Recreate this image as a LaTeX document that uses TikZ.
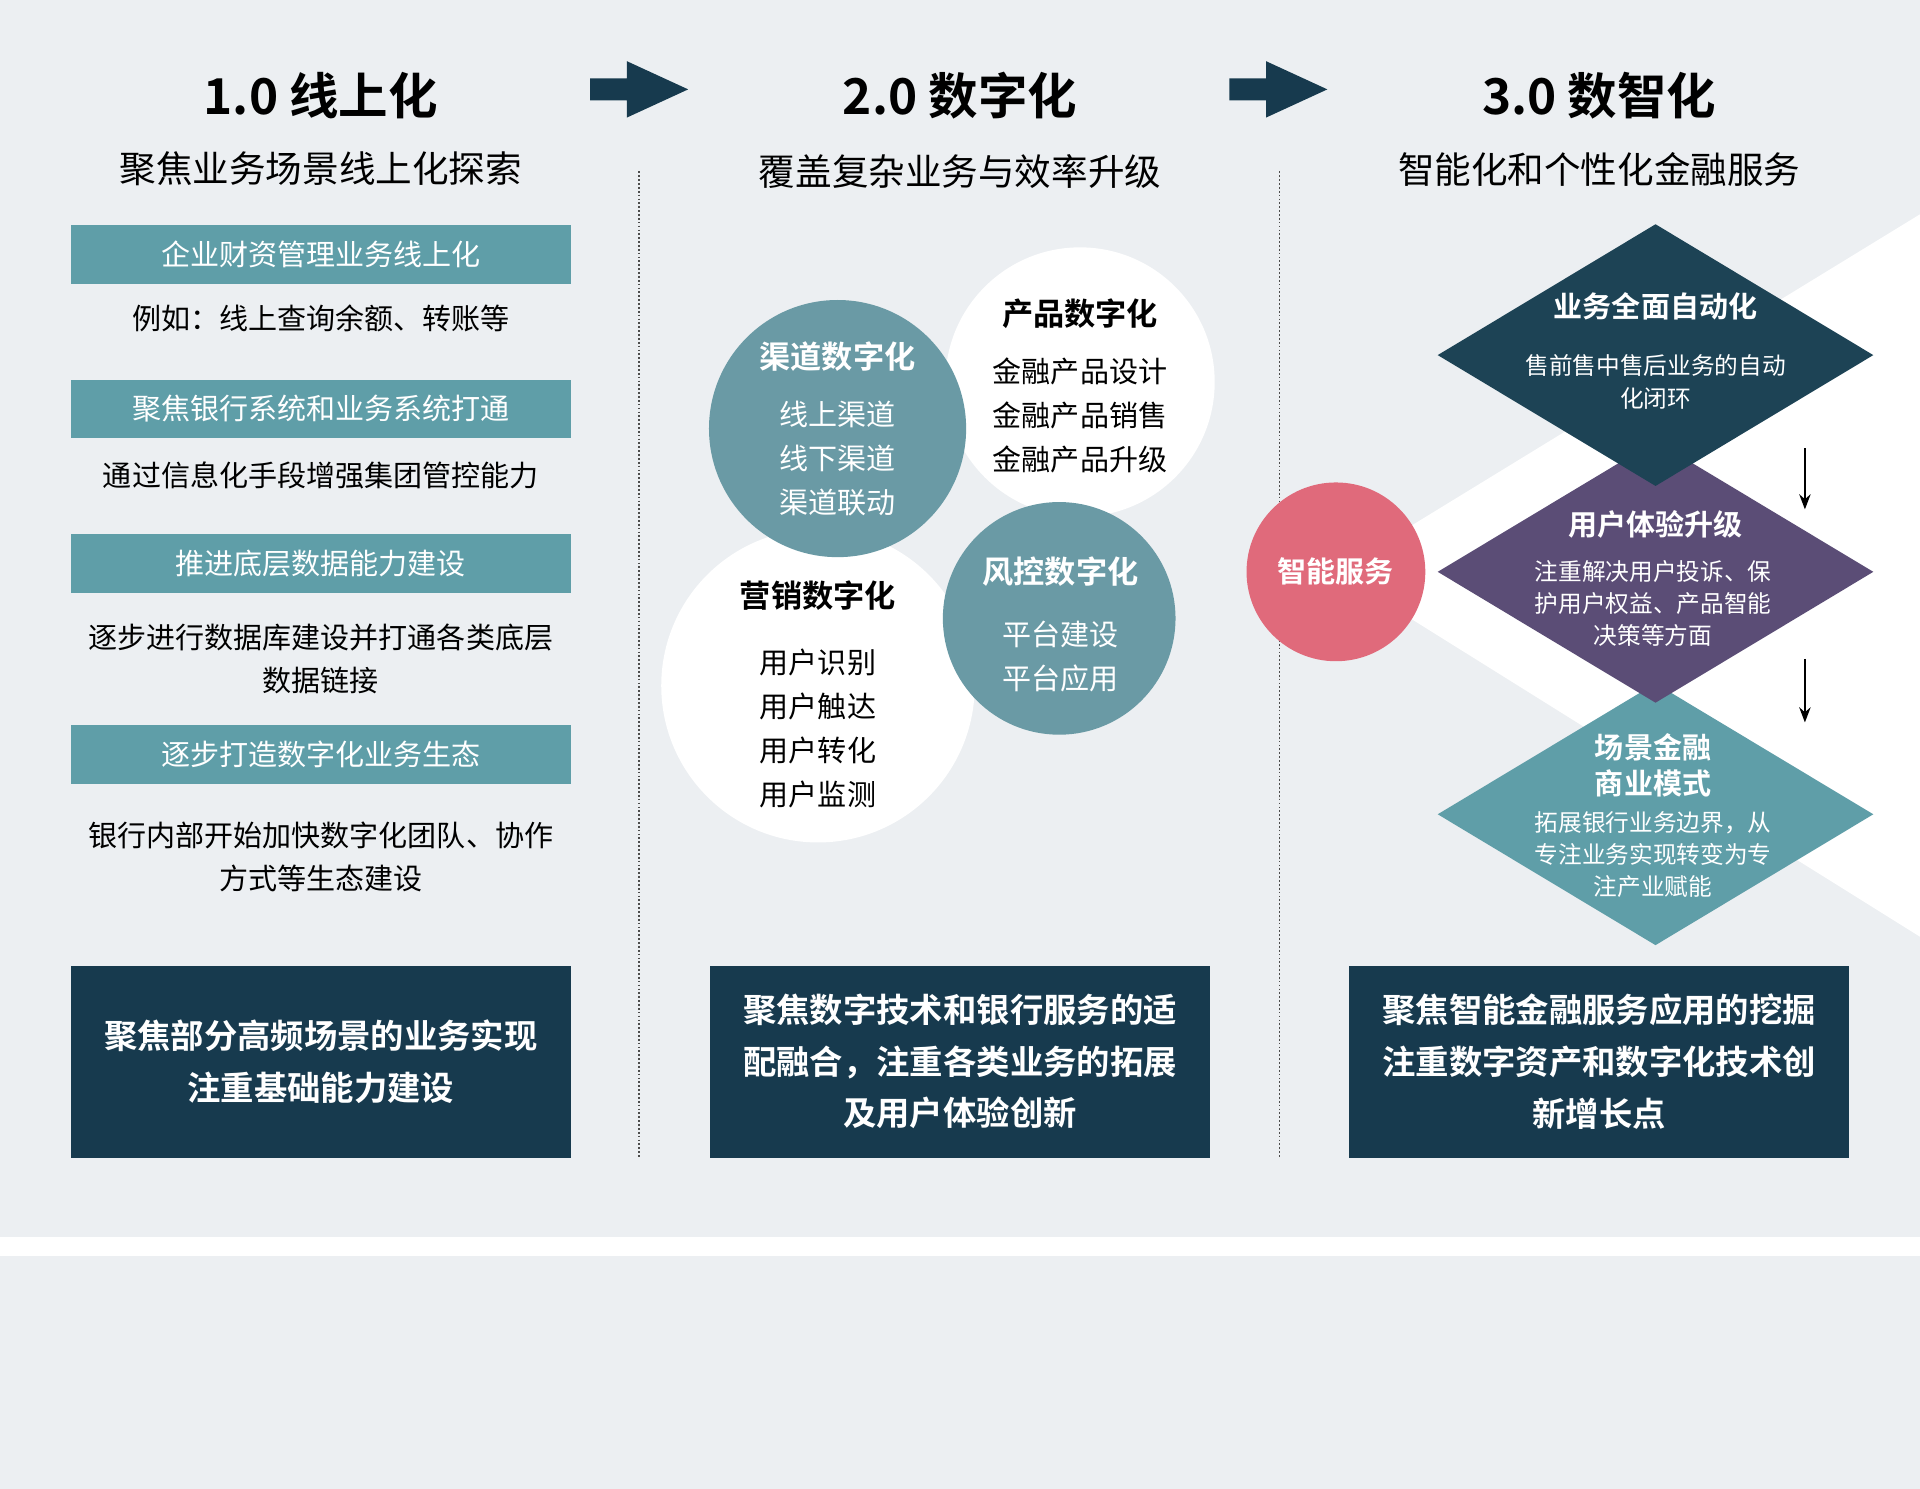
\documentclass[tikz,border=0pt]{standalone}
\usepackage{fontspec}
\setmainfont{Noto Sans CJK SC}[BoldFont={Noto Sans CJK SC Bold}]
\usetikzlibrary{shapes.geometric,arrows.meta}
\definecolor{bg}{HTML}{ECEFF2}
\definecolor{navy}{HTML}{173A4E}
\definecolor{teal}{HTML}{5F9EA8}
\definecolor{tealc}{HTML}{6A9AA5}
\definecolor{purp}{HTML}{5B4D76}
\definecolor{pink}{HTML}{E06A7B}
\definecolor{dnavy}{HTML}{1D4355}
\tikzset{
 ttl/.style={font=\bfseries\fontsize{23}{28}\selectfont},
 sub/.style={font=\fontsize{17}{21}\selectfont},
 bar/.style={fill=teal,minimum width=408*0.02cm,minimum height=48*0.02cm,text=white,font=\fontsize{13.5}{16}\selectfont},
 desc/.style={align=center,font=\fontsize{13.5}{20}\selectfont},
 btm/.style={fill=navy,minimum width=408*0.02cm,minimum height=157*0.02cm,text=white,align=center,font=\bfseries\fontsize{15.5}{24}\selectfont},
 ctxt/.style={align=center,font=\fontsize{13.5}{20.5}\selectfont},
 dia/.style={diamond,aspect=1.66,minimum width=356*0.02cm,minimum height=214*0.02cm,inner sep=0pt},
 dtxt/.style={align=center,text=white,font=\fontsize{11}{15}\selectfont},
 dttl/.style={align=center,text=white,font=\bfseries\fontsize{13.5}{17}\selectfont},
 bigarrow/.style={fill=navy,draw=none},
 sep/.style={densely dotted,line width=0.8pt,draw=black!70}
}
\begin{document}
\begin{tikzpicture}[x={(0.02cm,0)},y={(0,-0.02cm)}]
\useasboundingbox (0,0) rectangle (1568,1216);
\fill[bg] (0,0) rectangle (1568,1216);
\fill[white] (0,1010) rectangle (1568,1026);
% titles
\node[ttl] (t1) at (262,78) {1.0 线上化};
\node[ttl] (t2) at (784,78) {2.0 数字化};
\node[ttl] (t3) at (1306,78) {3.0 数智化};
\node[sub] (s1) at (262,138) {聚焦业务场景线上化探索};
\node[sub] (s2) at (784,140) {覆盖复杂业务与效率升级};
\node[sub] (s3) at (1306,138) {智能化和个性化金融服务};
% arrows
\fill[bigarrow] (482,64) -- (512,64) -- (512,50) -- (562,73) -- (512,96) -- (512,82) -- (482,82) -- cycle;
\fill[bigarrow] (1004,64) -- (1034,64) -- (1034,50) -- (1084,73) -- (1034,96) -- (1034,82) -- (1004,82) -- cycle;
% separators
\coordinate (a1) at (522,140); \coordinate (a2) at (522,945);
\coordinate (b1) at (1045,140); \coordinate (b2) at (1045,945);
\draw[sep] (a1) -- (a2);
\draw[sep] (b1) -- (b2);
% column 1
\node[bar] (c1) at (262,208) {企业财资管理业务线上化};
\node[desc] (d1) at (262,260) {例如：线上查询余额、转账等};
\node[bar] (c2) at (262,334) {聚焦银行系统和业务系统打通};
\node[desc] (d2) at (262,388) {通过信息化手段增强集团管控能力};
\node[bar] (c3) at (262,460) {推进底层数据能力建设};
\node[desc] (d3) at (262,538) {逐步进行数据库建设并打通各类底层\\数据链接};
\node[bar] (c4) at (262,616) {逐步打造数字化业务生态};
\node[desc] (d4) at (262,700) {银行内部开始加快数字化团队、协作\\方式等生态建设};
% bottom boxes
\node[btm] (e1) at (262,867) {聚焦部分高频场景的业务实现\\注重基础能力建设};
\node[btm] (e2) at (784,867) {聚焦数字技术和银行服务的适\\配融合，注重各类业务的拓展\\及用户体验创新};
\node[btm] (e3) at (1306,867) {聚焦智能金融服务应用的挖掘\\注重数字资产和数字化技术创\\新增长点};
% circles
\fill[white] (882,312) circle (110);
\fill[white] (668,560) circle (128);
\fill[tealc] (684,350) circle (105);
\fill[tealc] (865,505) circle (95);
\node[ctxt,text=white] (q1) at (684,350) {\textbf{\fontsize{14.5}{20}\selectfont 渠道数字化}\\[6pt]线上渠道\\线下渠道\\渠道联动};
\node[ctxt] (q2) at (882,315) {\textbf{\fontsize{14.5}{20}\selectfont 产品数字化}\\[6pt]金融产品设计\\金融产品销售\\金融产品升级};
\node[ctxt] (q3) at (668,567) {\textbf{\fontsize{14.5}{20}\selectfont 营销数字化}\\[10pt]用户识别\\用户触达\\用户转化\\用户监测};
\node[ctxt,text=white] (q4) at (866,510) {\textbf{\fontsize{14.5}{20}\selectfont 风控数字化}\\[8pt]平台建设\\平台应用};
% column 3
\fill[white] (1091,467) -- (1568,175) -- (1568,765) -- cycle;
\node[circle,fill=pink,minimum size=146*0.02cm,text=white,font=\bfseries\fontsize{13.5}{16}\selectfont] (p) at (1091,467) {智能服务};
\node[dia,fill=teal] (g3) at (1352,665) {};
\node[dia,fill=purp] (g2) at (1352,467) {};
\node[dia,fill=dnavy] (g1) at (1352,290) {};
\node[dttl] at (1352,250) {业务全面自动化};
\node[dtxt] at (1352,312) {售前售中售后业务的自动\\化闭环};
\node[dttl] at (1352,428) {用户体验升级};
\node[dtxt] at (1350,493) {注重解决用户投诉、保\\护用户权益、产品智能\\决策等方面};
\node[dttl] at (1350,625) {场景金融\\商业模式};
\node[dtxt] at (1350,698) {拓展银行业务边界，从\\专注业务实现转变为专\\注产业赋能};
\coordinate (r1) at (1474,366); \coordinate (r2) at (1474,416);
\coordinate (r3) at (1474,538); \coordinate (r4) at (1474,590);
\draw[-{Stealth[length=7pt]},line width=1.2pt] (r1) -- (r2);
\draw[-{Stealth[length=7pt]},line width=1.2pt] (r3) -- (r4);
\end{tikzpicture}
\end{document}
